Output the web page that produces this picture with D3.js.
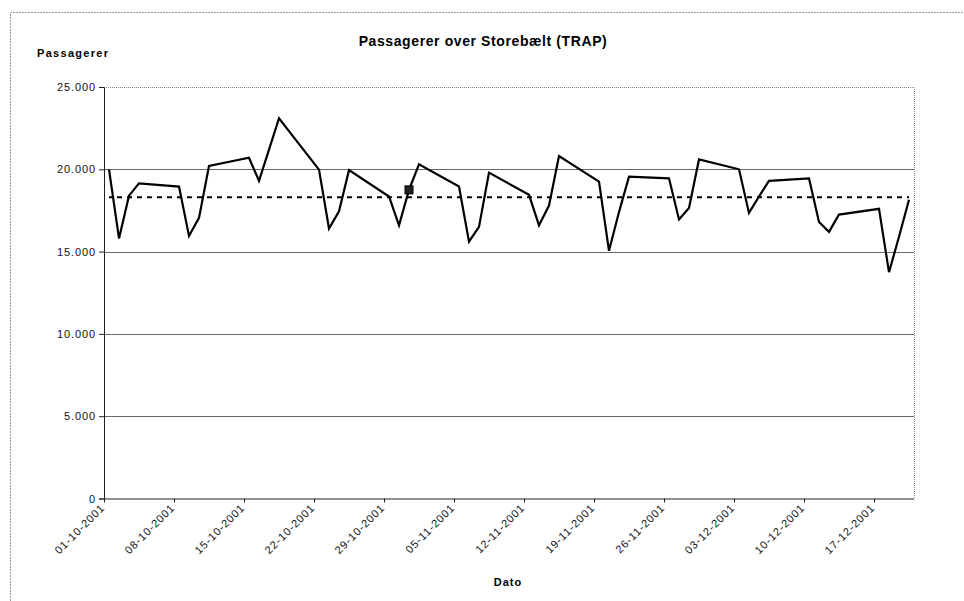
<!DOCTYPE html>
<html>
<head>
<meta charset="utf-8">
<script src="https://cdn.jsdelivr.net/npm/d3@7/dist/d3.min.js"></script>
<style>
  html, body { margin: 0; padding: 0; background: #fff; }
  svg { display: block; font-family: "Liberation Sans", Arial, sans-serif; }
</style>
</head>
<body>
<svg id="chart" width="964" height="601"></svg>
<script>
// ---- data ----
const dates = [
  "01-10-2001","02-10-2001","03-10-2001","04-10-2001",
  "08-10-2001","09-10-2001","10-10-2001","11-10-2001",
  "15-10-2001","16-10-2001","17-10-2001","18-10-2001",
  "22-10-2001","23-10-2001","24-10-2001","25-10-2001",
  "29-10-2001","30-10-2001","31-10-2001","01-11-2001",
  "05-11-2001","06-11-2001","07-11-2001","08-11-2001",
  "12-11-2001","13-11-2001","14-11-2001","15-11-2001",
  "19-11-2001","20-11-2001","21-11-2001","22-11-2001",
  "26-11-2001","27-11-2001","28-11-2001","29-11-2001",
  "03-12-2001","04-12-2001","05-12-2001","06-12-2001",
  "10-12-2001","11-12-2001","12-12-2001","13-12-2001",
  "17-12-2001","18-12-2001","19-12-2001","20-12-2001"
];
const passengers = [
  20000,15800,18400,19150,
  18950,15950,17050,20200,
  20700,19300,21200,23100,
  19980,16400,17450,19950,
  18350,16600,18750,20300,
  18950,15600,16500,19800,
  18450,16600,17800,20800,
  19250,15050,17400,19550,
  19450,16950,17650,20600,
  20000,17350,18350,19300,
  19450,16800,16200,17250,
  17600,13750,15900,18150
];
const meanValue = 18300;
const markedDate = "31-10-2001";
const xTickLabels = ["01-10-2001","08-10-2001","15-10-2001","22-10-2001","29-10-2001",
  "05-11-2001","12-11-2001","19-11-2001","26-11-2001","03-12-2001","10-12-2001","17-12-2001"];
const yTicks = [0, 5000, 10000, 15000, 20000, 25000];
const axisStart = "01-10-2001", axisEnd = "21-12-2001";
const title = "Passagerer over Storebælt (TRAP)";
const yTitle = "Passagerer";
const xTitle = "Dato";

// ---- chart ----
const parse = d3.timeParse("%d-%m-%Y");
const svg = d3.select("#chart");
const L = 104, R = 914, T = 87, B = 498.5;

const x = d3.scaleTime().domain([parse(axisStart), parse(axisEnd)]).range([L, R]);
const y = d3.scaleLinear().domain([0, 25000]).range([B, T]);
const mid = s => d3.timeHour.offset(parse(s), 12);

const data = dates.map((d, i) => ({ date: mid(d), value: passengers[i], key: d }));

// chart area border (top & left)
svg.append("path").attr("d", `M10.5,601 V12.5 H964`).attr("fill", "none")
  .attr("stroke", "#999").attr("stroke-width", 1).attr("stroke-dasharray", "2,1");

// gridlines
svg.append("g").selectAll("line").data(yTicks.filter(v => v > 0 && v < 25000)).join("line")
  .attr("x1", L).attr("x2", R).attr("y1", d => Math.round(y(d)) + 0.5).attr("y2", d => Math.round(y(d)) + 0.5)
  .attr("stroke", "#666").attr("stroke-width", 1);

// plot border top & right (dotted)
svg.append("path").attr("d", `M${L},${Math.round(T)+0.5} H${R+0.5} V${B}`).attr("fill", "none")
  .attr("stroke", "#888").attr("stroke-width", 1).attr("stroke-dasharray", "1,1");

// y axis
const yAxis = d3.axisLeft(y).tickValues(yTicks).tickSize(5).tickPadding(3)
  .tickFormat(d => d3.format(",")(d).replace(/,/g, "."));
const gy = svg.append("g").attr("transform", `translate(${L},0)`).call(yAxis);
gy.select(".domain").attr("stroke", "#222");
gy.selectAll(".tick line").attr("stroke", "#222");
gy.selectAll("text").attr("font-size", 11).attr("letter-spacing", 0.9).attr("fill", "#111")
  .attr("font-family", "Liberation Sans, Arial, sans-serif");

// x axis
const xAxis = d3.axisBottom(x).tickValues(xTickLabels.map(parse)).tickSize(4)
  .tickFormat(d3.timeFormat("%d-%m-%Y"));
const gx = svg.append("g").attr("transform", `translate(0,${B})`).call(xAxis);
gx.select(".domain").attr("stroke", "#222").attr("d", `M${L},0.5H${R}`);
gx.selectAll(".tick line").attr("stroke", "#222");
gx.selectAll("text").attr("font-size", 11).attr("letter-spacing", 0.9).attr("fill", "#111")
  .attr("font-family", "Liberation Sans, Arial, sans-serif")
  .attr("text-anchor", "end").attr("dy", null).attr("y", 0)
  .attr("transform", "translate(1,10) rotate(-45)");

// mean line
svg.append("path").datum(data)
  .attr("d", d3.line().x(d => x(d.date)).y(() => y(meanValue)))
  .attr("fill", "none").attr("stroke", "#000").attr("stroke-width", 2)
  .attr("stroke-dasharray", "5,5").attr("stroke-dashoffset", -8);

// data line
svg.append("path").datum(data)
  .attr("d", d3.line().x(d => x(d.date)).y(d => y(d.value)))
  .attr("fill", "none").attr("stroke", "#000").attr("stroke-width", 2.2).attr("stroke-linejoin", "miter");

// marker
const m = data.find(d => d.key === markedDate);
svg.append("rect").attr("x", x(m.date) - 4).attr("y", y(m.value) - 4)
  .attr("width", 8).attr("height", 8).attr("fill", "#222").attr("stroke", "#000");

// titles
svg.append("text").attr("x", 483).attr("y", 46).attr("text-anchor", "middle")
  .attr("font-size", 14).attr("font-weight", "bold").attr("letter-spacing", 0.6).text(title);
svg.append("text").attr("x", 37).attr("y", 57).attr("font-size", 11)
  .attr("font-weight", "bold").attr("letter-spacing", 1.3).text(yTitle);
svg.append("text").attr("x", 508).attr("y", 586).attr("text-anchor", "middle")
  .attr("font-size", 11).attr("font-weight", "bold").attr("letter-spacing", 1).text(xTitle);
</script>
</body>
</html>
